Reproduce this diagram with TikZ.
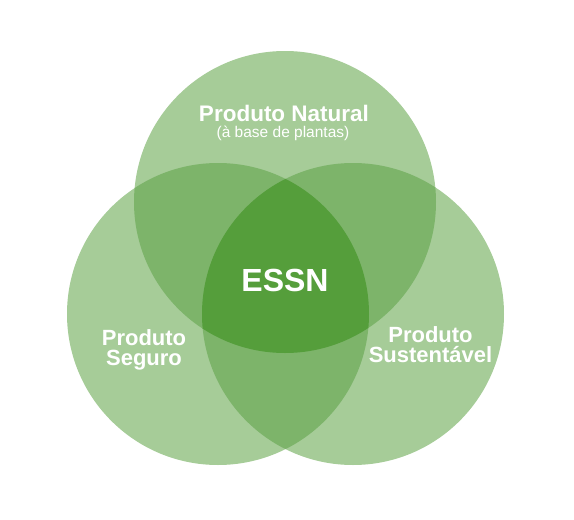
\documentclass[tikz,border=0pt]{standalone}
\usepackage{fontspec}
\setmainfont{Liberation Sans}

\definecolor{vennone}{HTML}{A6CC98}
\definecolor{venntwo}{HTML}{7DB46A}
\definecolor{vennthree}{HTML}{559E3B}

\begin{document}
\begin{tikzpicture}[
    x=1pt,
    y=-1pt,
    every node/.style={
        text=white,
        inner sep=0pt,
        anchor=base,
    },
    settitle/.style={font=\fontsize{22.5}{24}\selectfont\bfseries},
    setname/.style={font=\fontsize{22}{24}\selectfont\bfseries},
    setsub/.style={font=\fontsize{15.5}{17}\selectfont},
    corename/.style={font=\fontsize{32}{34}\selectfont\bfseries},
]

\useasboundingbox (0,0) rectangle (574,520);

% --- Circle centres ---
\coordinate (cN) at (285,202);
\coordinate (cL) at (218,314);
\coordinate (cR) at (353,314);
\def\vennr{151pt}

% --- Single sets ---
\fill[vennone] (cN) circle[radius=\vennr];
\fill[vennone] (cL) circle[radius=\vennr];
\fill[vennone] (cR) circle[radius=\vennr];

% --- Pairwise overlaps ---
\begin{scope}
    \clip (cN) circle[radius=\vennr];
    \fill[venntwo] (cL) circle[radius=\vennr];
    \fill[venntwo] (cR) circle[radius=\vennr];
\end{scope}
\begin{scope}
    \clip (cL) circle[radius=\vennr];
    \fill[venntwo] (cR) circle[radius=\vennr];
\end{scope}

% --- Centre ---
\begin{scope}
    \clip (cN) circle[radius=\vennr];
    \clip (cL) circle[radius=\vennr];
    \fill[vennthree] (cR) circle[radius=\vennr];
\end{scope}

% --- Labels ---
\node[settitle] (natural)    at (284,121) {Produto Natural};
\node[setsub]   (naturalsub) at (283,137) {(à base de plantas)};
\node[corename] (essn)       at (285,291) {ESSN};
\node[setname]  (seguroA)    at (144,345) {Produto};
\node[setname]  (seguroB)    at (144,365) {Seguro};
\node[setname]  (sustA)      at (430.5,342) {Produto};
\node[setname]  (sustB)      at (430.5,362) {Sustentável};

\end{tikzpicture}
\end{document}
